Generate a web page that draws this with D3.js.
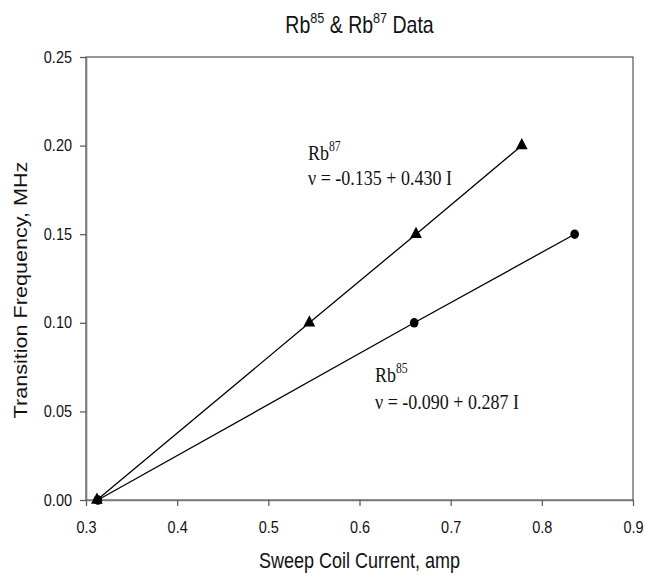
<!DOCTYPE html>
<html>
<head>
<meta charset="utf-8">
<script src="https://cdn.jsdelivr.net/npm/d3@7"></script>
<style>
  body { margin: 0; background: #fff; }
  svg { display: block; }
</style>
</head>
<body>
<div id="chart"></div>
<script>
// data
const rb87Current = [0.312, 0.545, 0.662, 0.778];
const rb87Freq = [0.0, 0.1, 0.15, 0.2];
const rb85Current = [0.313, 0.66, 0.836];
const rb85Freq = [0.0, 0.1, 0.15];
const xTicks = [0.3, 0.4, 0.5, 0.6, 0.7, 0.8, 0.9];
const yTicks = [0.0, 0.05, 0.1, 0.15, 0.2, 0.25];

const width = 646, height = 575;
const margin = { top: 57, right: 13, bottom: 75, left: 86 };
const sans = "'Liberation Sans', Arial, sans-serif";
const serif = "'Liberation Serif', 'Times New Roman', serif";
const stretch = 1.2; // text in the picture is drawn a bit tall

const svg = d3.select("#chart").append("svg")
  .attr("width", width)
  .attr("height", height);

const x = d3.scaleLinear().domain([0.3, 0.9]).range([margin.left, width - margin.right]);
const y = d3.scaleLinear().domain([0, 0.25]).range([height - margin.bottom, margin.top]);

// frame (top + right)
svg.append("rect")
  .attr("x", x(0.3)).attr("y", y(0.25))
  .attr("width", x(0.9) - x(0.3)).attr("height", y(0) - y(0.25))
  .attr("fill", "none").attr("stroke", "#333").attr("stroke-width", 1);

// axes
const xAxis = svg.append("g")
  .attr("transform", `translate(0,${y(0)})`)
  .call(d3.axisBottom(x).tickValues(xTicks).tickFormat(d3.format(".1f")).tickSize(6).tickSizeOuter(0));
const yAxis = svg.append("g")
  .attr("transform", `translate(${x(0.3)},0)`)
  .call(d3.axisLeft(y).tickValues(yTicks).tickFormat(d3.format(".2f")).tickSize(6).tickSizeOuter(0));

[xAxis, yAxis].forEach(g => {
  g.select(".domain").attr("stroke", "#7a7a7a").attr("stroke-width", 1.6);
  g.selectAll(".tick line").attr("stroke", "#555").attr("stroke-width", 1.2);
  g.selectAll(".tick text").attr("fill", "#111").attr("font-family", sans).attr("font-size", 14.5);
});
xAxis.selectAll(".tick text")
  .attr("y", 0).attr("dy", 0)
  .attr("transform", `translate(0,33) scale(1,${stretch})`);
yAxis.selectAll(".tick text")
  .attr("x", 0).attr("dy", 0)
  .attr("transform", `translate(-14,5) scale(1,${stretch})`);

// lines + markers
const line = d3.line().x(d => x(d[0])).y(d => y(d[1]));
const rb87 = rb87Current.map((c, i) => [c, rb87Freq[i]]);
const rb85 = rb85Current.map((c, i) => [c, rb85Freq[i]]);

svg.append("path").datum(rb87).attr("d", line)
  .attr("fill", "none").attr("stroke", "#000").attr("stroke-width", 1.3);
svg.append("path").datum(rb85).attr("d", line)
  .attr("fill", "none").attr("stroke", "#000").attr("stroke-width", 1.3);

const tri = d3.symbol().type(d3.symbolTriangle).size(60);
svg.selectAll(".tri").data(rb87).join("path")
  .attr("class", "tri")
  .attr("d", tri)
  .attr("transform", d => `translate(${x(d[0])},${y(d[1])}) scale(1,1.1)`)
  .attr("fill", "#000");
svg.selectAll(".dot").data(rb85).join("ellipse")
  .attr("class", "dot")
  .attr("cx", d => x(d[0])).attr("cy", d => y(d[1]))
  .attr("rx", 4.3).attr("ry", 4.8)
  .attr("fill", "#000");

// helper for text with superscript (dy carried to the next normal tspan)
function supText(g, parts, size) {
  const t = g.append("text").attr("font-size", size).attr("x", 0).attr("y", 0);
  const lift = size * 0.42;
  let back = 0;
  parts.forEach(p => {
    if (p.sup) {
      t.append("tspan").attr("font-size", size * 0.65).attr("dy", -lift).text(p.sup);
      back = lift;
    } else {
      t.append("tspan").attr("dy", back).text(p.t);
      back = 0;
    }
  });
  return t;
}

// title
const title = svg.append("g")
  .attr("transform", `translate(${(x(0.3) + x(0.9)) / 2},33) scale(1,${stretch})`);
supText(title, [{ t: "Rb" }, { sup: "85" }, { t: " & Rb" }, { sup: "87" }, { t: " Data" }], 19.5)
  .attr("text-anchor", "middle").attr("font-family", sans).attr("fill", "#111");

// axis titles
svg.append("text")
  .attr("transform", `translate(${(x(0.3) + x(0.9)) / 2},568) scale(1,${stretch})`)
  .attr("text-anchor", "middle")
  .attr("font-family", sans).attr("font-size", 18).attr("fill", "#111")
  .text("Sweep Coil Current, amp");
svg.append("text")
  .attr("transform", `translate(27,290) rotate(-90) scale(${stretch},1)`)
  .attr("text-anchor", "middle")
  .attr("font-family", sans).attr("font-size", 18).attr("fill", "#111")
  .text("Transition Frequency, MHz");

// fit annotations
function note(px, py, iso, eq, gap) {
  const a = svg.append("g").attr("transform", `translate(${px},${py}) scale(1,${stretch})`);
  supText(a, [{ t: "Rb" }, { sup: iso }], 18)
    .attr("font-family", serif).attr("fill", "#111");
  svg.append("text")
    .attr("transform", `translate(${px},${py + gap}) scale(1,${stretch})`)
    .attr("font-family", serif).attr("font-size", 18).attr("fill", "#111")
    .text(eq);
}
note(308, 160, "87", "\u03bd = -0.135 + 0.430 I", 25);
note(375, 382, "85", "\u03bd = -0.090 + 0.287 I", 27);
</script>
</body>
</html>
